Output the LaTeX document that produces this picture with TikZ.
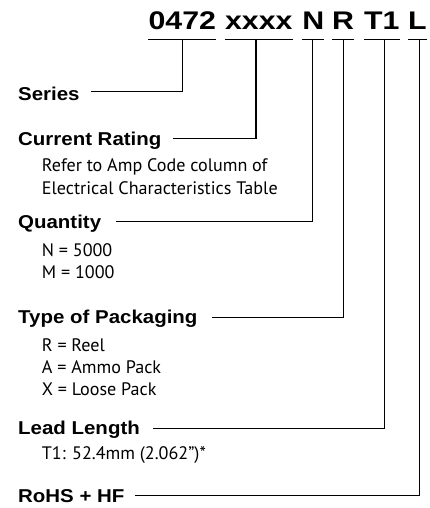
\documentclass[tikz,border=0pt]{standalone}
\usepackage{fontspec}
\setmainfont{PT Sans}
\newfontfamily\topfont{Liberation Sans}[FakeStretch=1.19]
\newfontfamily\lblfont{Liberation Sans}[FakeStretch=1.1]
\begin{document}
\begin{tikzpicture}[x=1pt,y=-1pt,
  code/.style={font=\topfont\bfseries\fontsize{25.5}{25.5}\selectfont, inner sep=0pt, anchor=base},
  lbl/.style={font=\lblfont\bfseries\fontsize{18.6}{18.6}\selectfont, inner sep=0pt, text height=13.3pt, text depth=0pt, anchor=south west},
  desc/.style={font=\fontsize{18.1}{22}\selectfont, inner sep=0pt, anchor=base west},
  conn/.style={line width=1.1pt},
  uline/.style={line width=1.3pt}]
\useasboundingbox (0,0) rectangle (429,508);
% part-number code
\node[code] (c1) at (182.3,30) {0472};
\node[code] (c2) at (258.8,30) {xxxx};
\node[code] (c3) at (313.3,30) {N};
\node[code] (c4) at (343,30) {R};
\node[code] (c5) at (381.7,30) {T1};
\node[code] (c6) at (417.3,30) {L};
\foreach \c in {c1,c2,c3,c4,c5,c6}
  \draw[uline] ([yshift=-9.5pt]\c.base west) -- ([yshift=-9.5pt]\c.base east);
% labels
\node[lbl] (series) at (18,100.7) {Series};
\node[lbl] (current) at (18,145.5) {Current Rating};
\node[lbl] (quantity) at (18,228.3) {Quantity};
\node[lbl] (packaging) at (18,324) {Type of Packaging};
\node[lbl] (lead) at (18,435) {Lead Length};
\node[lbl] (rohs) at (18,502.3) {RoHS + HF};
% descriptions
\node[desc] (d1) at (41.7,171.7) {Refer to Amp Code column of};
\node[desc] (d2) at (41.7,194) {Electrical Characteristics Table};
\node[desc] (q1) at (41.7,256.7) {N = 5000};
\node[desc] (q2) at (41.7,278.3) {M = 1000};
\node[desc] (p1) at (41.7,351.7) {R = Reel};
\node[desc] (p2) at (41.7,373.5) {A = Ammo Pack};
\node[desc] (p3) at (41.7,395.5) {X = Loose Pack};
\node[desc] (l1) at (41.7,459) {T1: 52.4mm (2.062”)*};
% connectors
\draw[conn] ([yshift=-9.5pt]c1.base) |- ([xshift=11pt,yshift=2.5pt]series.east);
\draw[conn] ([xshift=-2.8pt,yshift=-9.5pt]c2.base) |- ([xshift=11pt]current.east);
\draw[conn] ([xshift=-0.6pt,yshift=-9.5pt]c3.base) |- ([xshift=15pt]quantity.east);
\draw[conn] ([xshift=0.3pt,yshift=-9.5pt]c4.base) |- ([xshift=14pt]packaging.east);
\draw[conn] ([xshift=2.6pt,yshift=-9.5pt]c5.base) |- ([xshift=13pt]lead.east);
\draw[conn] ([xshift=2pt,yshift=-9.5pt]c6.base) |- ([xshift=10.7pt]rohs.east);
\end{tikzpicture}
\end{document}
